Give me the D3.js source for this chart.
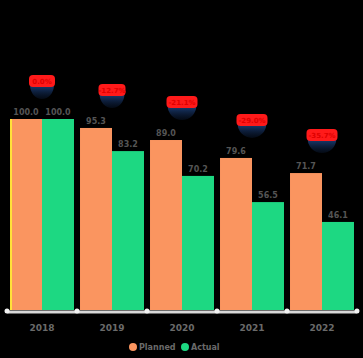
<!DOCTYPE html>
<html><head><meta charset="utf-8">
<script src="https://cdn.jsdelivr.net/npm/d3@7"></script>
<style>html,body{margin:0;padding:0;background:#000;}svg{display:block;}</style>
</head><body><svg id="c" width="363" height="358"></svg>
<script>
const categories = ["2018", "2019", "2020", "2021", "2022"];
const seriesNames = ["Planned", "Actual"];
const planned = [100, 95.3, 89.0, 79.6, 71.7];
const actual = [100, 83.2, 70.2, 56.5, 46.1];
const changeLabels = ["0.0%", "-12.7%", "-21.1%", "-29.0%", "-35.7%"];

const W = 363, H = 358;
const colors = ["#FA9560", "#1DD882"];
const svg = d3.select("#c");
const defs = svg.append("defs");
const g1 = defs.append("linearGradient").attr("id","blueFade").attr("x1",0).attr("y1",0).attr("x2",0).attr("y2",1);
g1.append("stop").attr("offset","0%").attr("stop-color","#1c3f78").attr("stop-opacity",1);
g1.append("stop").attr("offset","100%").attr("stop-color","#0c1d3a").attr("stop-opacity",0.35);

const x = d3.scaleBand().domain(categories).range([7, 357]).paddingInner(0.086).paddingOuter(0.043);
const xs = d3.scaleBand().domain(seriesNames).range([0, x.bandwidth()]);
const y = d3.scaleLinear().domain([0, 100]).range([310, 119]);

const data = categories.map((c, i) => ({c, i, vals: [planned[i], actual[i]]}));

// bars
const grp = svg.append("g").selectAll("g").data(data).join("g")
  .attr("transform", d => `translate(${x(d.c)},0)`);
grp.selectAll("rect").data(d => d.vals.map((v, k) => ({v, k}))).join("rect")
  .attr("x", d => xs(seriesNames[d.k]))
  .attr("y", d => y(d.v))
  .attr("width", xs.bandwidth())
  .attr("height", d => y(0) - y(d.v))
  .attr("fill", d => colors[d.k]);

// yellow edge on first bar
svg.append("rect").attr("x", x(categories[0])).attr("y", y(planned[0]))
  .attr("width", 2).attr("height", y(0) - y(planned[0])).attr("fill", "#FFE23A");

// value labels
grp.selectAll("text").data(d => d.vals.map((v, k) => ({v, k}))).join("text")
  .attr("x", d => xs(seriesNames[d.k]) + xs.bandwidth() / 2)
  .attr("y", d => y(d.v) - 4)
  .attr("text-anchor", "middle")
  .attr("font-family", "DejaVu Sans, sans-serif")
  .attr("font-size", 8).attr("font-weight", "bold")
  .attr("fill", "#555555")
  .text(d => d.v.toFixed(1));

// badges
const badge = svg.append("g").selectAll("g").data(data).join("g")
  .attr("transform", d => `translate(${x(d.c) + x.bandwidth() / 2},${y(d.vals[0]) - 44})`);
badge.each(function(d) {
  const gg = d3.select(this);
  const w = d.i === 0 ? 26 : (d.i < 2 ? 27 : 31);
  gg.append("path")
    .attr("d", `M${-w*0.46},10 A${w*0.46},14 0 0 0 ${w*0.46},10 Z`)
    .attr("fill", "url(#blueFade)");
  gg.append("rect").attr("x", -w/2).attr("y", 0).attr("width", w).attr("height", 12)
    .attr("rx", 4).attr("fill", "#FF1A1A");
  gg.append("text").attr("x", 0).attr("y", 9).attr("text-anchor","middle")
    .attr("font-family","DejaVu Sans, sans-serif").attr("font-size",7).attr("font-weight","bold")
    .attr("fill","#e00000").text(changeLabels[d.i]);
});

// axis base
const axisG = svg.append("g");
axisG.append("line").attr("x1", 8).attr("x2", 356).attr("y1", 312).attr("y2", 312)
  .attr("stroke", "#d8d8d8").attr("stroke-width", 3).attr("stroke-linecap", "round");
const edges = categories.map(c => x(c) - 3).concat([x(categories[4]) + x.bandwidth() + 3]);
axisG.selectAll("circle").data(edges).join("circle")
  .attr("cx", d => d).attr("cy", 311).attr("r", 2.5).attr("fill", "#f2f2f2");

// category labels
svg.append("g").selectAll("text").data(categories).join("text")
  .attr("x", d => x(d) + x.bandwidth() / 2).attr("y", 331)
  .attr("text-anchor", "middle")
  .attr("font-family", "DejaVu Sans, sans-serif").attr("font-size", 9).attr("font-weight", "bold")
  .attr("fill", "#6a6a6a").text(d => d);

// legend
const leg = svg.append("g").selectAll("g").data(seriesNames).join("g")
  .attr("transform", (d, i) => `translate(${133 + i * 52},347)`);
leg.append("circle").attr("r", 4).attr("fill", (d, i) => colors[i]);
leg.append("text").attr("x", 6).attr("y", 3)
  .attr("font-family", "DejaVu Sans, sans-serif").attr("font-size", 8).attr("font-weight", "bold")
  .attr("fill", "#6a6a6a").text(d => d);
</script></body></html>
